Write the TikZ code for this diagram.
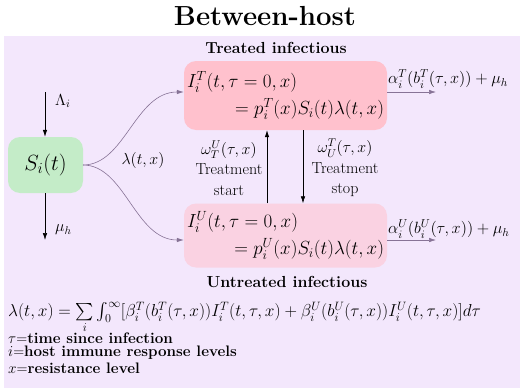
\documentclass[tikz,border=0pt]{standalone}
\usepackage{fix-cm}
\usepackage{exscale}
\usetikzlibrary{arrows.meta}
\definecolor{bgc}{RGB}{243,231,252}
\definecolor{tbox}{RGB}{255,193,205}
\definecolor{ubox}{RGB}{250,210,226}
\definecolor{sbox}{RGB}{196,236,200}
\definecolor{curvec}{RGB}{135,115,150}
\tikzset{
  box/.style={rounded corners=12pt, inner sep=3pt, draw=none},
  lbl/.style={inner sep=0pt, font=\fontsize{16}{19}\selectfont},
  hdr/.style={inner sep=0pt, font=\fontsize{16}{19}\selectfont\bfseries},
  arr/.style={-{Latex[length=7pt,width=4.5pt]}, line width=0.6pt},
  carr/.style={-{Latex[length=7pt,width=4.5pt]}, draw=curvec, line width=0.6pt},
}
\begin{document}
\begin{tikzpicture}[x=1pt,y=-1pt]
\useasboundingbox (0,0) rectangle (520,388);
\fill[bgc] (4,36) rectangle (520,388);
\node[inner sep=0pt, font=\fontsize{27.6}{31}\selectfont\bfseries] (title) at (265,16) {Between-host};
\node[hdr] (th) at (276,48) {Treated infectious};
\node[hdr] (uh) at (287,282) {Untreated infectious};
% boxes
\node[box, fill=sbox, minimum width=75pt, minimum height=56pt, font=\fontsize{22}{26}\selectfont] (S) at (45.5,165) {$S_i(t)$};
\node[box, fill=tbox, minimum width=203pt, minimum height=69pt, text width=197pt, align=left, font=\fontsize{19}{27}\selectfont] (IT) at (285.5,95.5)
  {$I_i^T(t,\tau=0,x)$\\ \hfill$=p_i^T(x)S_i(t)\lambda(t,x)$};
\node[box, fill=ubox, minimum width=203pt, minimum height=64pt, text width=197pt, align=left, font=\fontsize{19}{27}\selectfont] (IU) at (285.5,235.5)
  {$I_i^U(t,\tau=0,x)$\\ \hfill$=p_i^U(x)S_i(t)\lambda(t,x)$};
% inflow / outflow of S
\coordinate (lamtop) at (45,92);
\coordinate (mubot) at (45,240);
\draw[arr] (lamtop) -- (S.north -| lamtop);
\node[lbl, anchor=west] (Lam) at (55,101) {$\Lambda_i$};
\draw[arr] (S.south -| mubot) -- (mubot);
\node[lbl, anchor=west] (mu) at (55,230) {$\mu_h$};
% infection curves
\coordinate (sr) at (83,165);
\draw[carr] (sr) .. controls (125,165) and (135,92) .. (IT.west |- 0,92);
\draw[carr] (sr) .. controls (125,165) and (135,240) .. (IU.west |- 0,240);
\node[lbl] (lam) at (143,160) {$\lambda(t,x)$};
% treatment switching
\draw[arr] (IU.north -| 267,0) -- (IT.south -| 267,0);
\draw[arr] (IT.south -| 303,0) -- (IU.north -| 303,0);
\node[lbl, align=center, font=\fontsize{16}{20.5}\selectfont] (start) at (229,168) {$\omega_T^U(\tau,x)$\\Treatment\\start};
\node[lbl, align=center, font=\fontsize{16}{20.5}\selectfont] (stop) at (345,168) {$\omega_U^T(\tau,x)$\\Treatment\\stop};
% outflows
\coordinate (tout) at (436,92);
\coordinate (uout) at (436,240);
\draw[carr] (IT.east |- tout) -- (tout);
\draw[carr] (IU.east |- uout) -- (uout);
\node[lbl, anchor=west, font=\fontsize{16.3}{19}\selectfont] (aT) at (388,79) {$\alpha_i^T(b_i^T(\tau,x))+\mu_h$};
\node[lbl, anchor=west, font=\fontsize{16.3}{19}\selectfont] (aU) at (388,229) {$\alpha_i^U(b_i^U(\tau,x))+\mu_h$};
% formula and legend
\node[lbl, anchor=west, font=\fontsize{17.3}{20}\selectfont] (form) at (8,318)
  {$\lambda(t,x)=\sum\limits_i\int_0^\infty[\beta_i^T(b_i^T(\tau,x))I_i^T(t,\tau,x)+\beta_i^U(b_i^U(\tau,x))I_i^U(t,\tau,x)]d\tau$};
\node[lbl, anchor=west, font=\fontsize{15.2}{18}\selectfont] (l1) at (8,338) {$\tau$=\textbf{time since infection}};
\node[lbl, anchor=west, font=\fontsize{15.2}{18}\selectfont] (l2) at (8,353) {$i$=\textbf{host immune response levels}};
\node[lbl, anchor=west, font=\fontsize{15.2}{18}\selectfont] (l3) at (8,368) {$x$=\textbf{resistance level}};
\end{tikzpicture}
\end{document}
